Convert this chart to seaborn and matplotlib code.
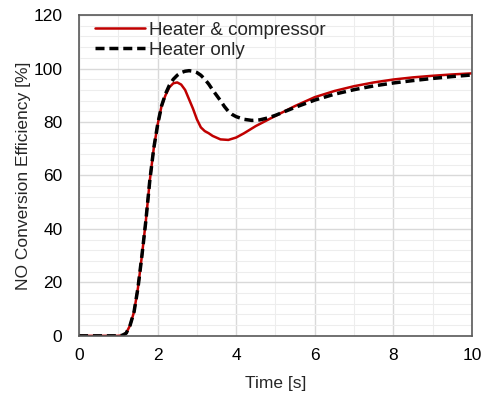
import matplotlib
matplotlib.use("Agg")
import matplotlib.pyplot as plt
import seaborn as sns
import numpy as np
from matplotlib.ticker import MultipleLocator

sns.set_theme(style="white")
plt.rcParams['font.family'] = ['Liberation Sans', 'DejaVu Sans']

t_red = [0, 0.5, 1.0, 1.1, 1.2, 1.3, 1.4, 1.5, 1.6, 1.7, 1.8, 1.9, 2.0, 2.1, 2.2, 2.3, 2.4, 2.5,
         2.6, 2.7, 2.8, 2.9, 3.0, 3.1, 3.2, 3.3, 3.4, 3.6, 3.8, 4.0, 4.2, 4.5, 5.0, 5.5, 6.0,
         6.5, 7.0, 7.5, 8.0, 8.5, 9.0, 9.5, 10.0]
v_red = [0, 0, 0, 0.2, 1, 4, 9, 18, 30, 43, 58, 70, 79, 86, 90, 93, 94.5, 94.8,
         94, 92, 88.5, 85, 81, 78, 76.6, 75.8, 74.8, 73.5, 73.3, 74.2, 75.8, 78.5, 82.3, 86, 89.3,
         91.6, 93.4, 94.8, 95.9, 96.7, 97.3, 97.8, 98.2]

t_blk = [0, 0.5, 1.0, 1.1, 1.2, 1.3, 1.4, 1.5, 1.6, 1.7, 1.8, 1.9, 2.0, 2.1, 2.2, 2.3, 2.4, 2.5,
         2.6, 2.7, 2.8, 2.9, 3.0, 3.1, 3.2, 3.3, 3.4, 3.5, 3.6, 3.7, 3.8, 3.9, 4.0, 4.2, 4.4,
         4.6, 4.8, 5.0, 5.5, 6.0, 6.5, 7.0, 7.5, 8.0, 8.5, 9.0, 9.5, 10.0]
v_blk = [0, 0, 0, 0.2, 1, 4, 9, 18, 30, 43, 58, 70, 79, 86, 90.5, 93.8, 96, 97.5,
         98.5, 99, 99.2, 99, 98.5, 97.5, 96, 94.2, 92, 90, 88, 85.8, 84, 82.8, 82, 81, 80.6,
         80.8, 81.5, 82.5, 85.5, 88.2, 90.4, 92.1, 93.5, 94.6, 95.5, 96.3, 97, 97.6]

fig = plt.figure(figsize=(4.85, 3.97), dpi=100)
ax = fig.add_axes([0.163, 0.154, 0.81, 0.808])

sns.lineplot(x=t_red, y=v_red, ax=ax, color="#C00000", linewidth=1.8, label="Heater & compressor")
sns.lineplot(x=t_blk, y=v_blk, ax=ax, color="black", linewidth=2.5, linestyle="--", label="Heater only")
ax.lines[1].set_dashes((2.6, 1.4))

ax.set_xlim(0, 10)
ax.set_ylim(0, 120)
ax.xaxis.set_major_locator(MultipleLocator(2))
ax.xaxis.set_minor_locator(MultipleLocator(1))
ax.yaxis.set_major_locator(MultipleLocator(20))
ax.yaxis.set_minor_locator(MultipleLocator(4))
ax.grid(which="major", color="#D9D9D9", linewidth=1.0)
ax.grid(which="minor", color="#EDEDED", linewidth=0.8)
ax.set_axisbelow(True)

for s in ax.spines.values():
    s.set_color("#595959")
    s.set_linewidth(1.2)

ax.tick_params(axis="both", which="both", length=0, labelsize=12.5, colors="black")
ax.tick_params(axis="y", pad=12)
ax.tick_params(axis="x", pad=9)
ax.set_xlabel("Time [s]", fontsize=12.5, labelpad=9)
ax.set_ylabel("NO Conversion Efficiency [%]", fontsize=12.5, labelpad=2)

leg = ax.legend(loc="upper left", bbox_to_anchor=(0.041, 0.979), frameon=False, fontsize=13.5,
                handlelength=2.65, handletextpad=0.2, borderaxespad=0, borderpad=0,
                labelspacing=0.15)
leg.get_lines()[1].set_dashes((2.6, 1.4))

fig.savefig("out.png", dpi=100)
